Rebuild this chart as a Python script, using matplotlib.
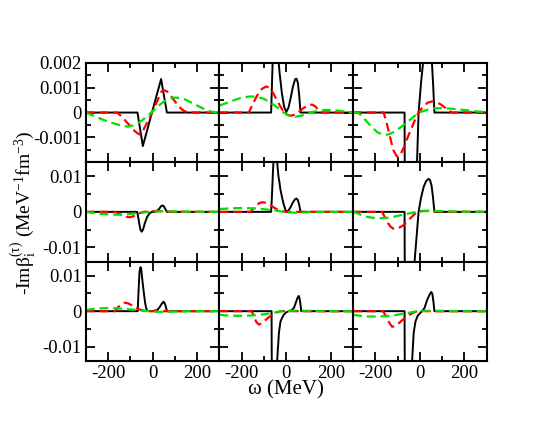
import matplotlib
matplotlib.use("Agg")
import matplotlib.pyplot as plt
from matplotlib.ticker import FixedLocator, MultipleLocator
import numpy as np

plt.rcParams['font.family'] = ['Liberation Serif', 'DejaVu Serif']
plt.rcParams['mathtext.fontset'] = 'custom'
plt.rcParams['mathtext.rm'] = 'Liberation Serif'
plt.rcParams['mathtext.it'] = 'Liberation Serif:italic'
plt.rcParams['axes.unicode_minus'] = False

# values in units of 1e-3 MeV^-1 fm^-3, omega in MeV
# ---- row 1 ----
w_k11 = [-300, -68, -44, 38, 64, 300]
v_k11 = [0, 0, -1.35, 1.35, 0, 0]
w_r11 = [-300, -160, -140, -120, -100, -80, -60, -50, -30, -10, 0, 20, 40, 50, 65, 80, 100, 120, 140, 160, 300]
v_r11 = [0, 0, -0.15, -0.35, -0.55, -0.75, -0.88, -0.85, -0.5, -0.15, 0.05, 0.45, 0.85, 0.9, 0.85, 0.7, 0.45, 0.22, 0.07, 0, 0]
w_g11 = [-300, -260, -220, -180, -140, -110, -80, -50, -20, 0, 30, 60, 90, 110, 140, 170, 200, 230, 260, 280, 300]
v_g11 = [0, -0.15, -0.3, -0.42, -0.53, -0.57, -0.5, -0.33, -0.12, 0.05, 0.3, 0.5, 0.6, 0.6, 0.55, 0.42, 0.28, 0.15, 0.05, 0, 0]

w_k12 = [-300, -68, -64, -60, -56, -52, -46, -38, -30, -20, -10, 0, 10, 20, 30, 40, 46, 52, 58, 64, 300]
v_k12 = [0, 0, 1.2, 2.4, 3.2, 3.6, 3.2, 2.4, 1.6, 0.8, 0.25, 0.02, 0.2, 0.6, 1.05, 1.35, 1.36, 1.2, 0.7, 0, 0]
w_r12 = [-300, -168, -150, -130, -110, -90, -75, -60, -45, -30, -15, 0, 20, 40, 60, 80, 100, 116, 130, 145, 155, 300]
v_r12 = [0, 0, 0.35, 0.7, 0.95, 1.05, 1.0, 0.8, 0.55, 0.3, 0.08, -0.07, -0.13, -0.08, 0.05, 0.2, 0.3, 0.32, 0.25, 0.1, 0, 0]
w_g12 = [-300, -270, -240, -200, -160, -130, -100, -70, -40, -15, 10, 40, 70, 100, 130, 170, 210, 250, 280, 300]
v_g12 = [0.28, 0.38, 0.48, 0.6, 0.65, 0.63, 0.55, 0.4, 0.2, 0.02, -0.12, -0.17, -0.12, -0.03, 0.05, 0.1, 0.1, 0.06, 0.02, 0]

w_k13 = [-300, -69, -67, -40, -20, -13, -6, 5, 14, 25, 38, 48, 54, 60, 65, 300]
v_k13 = [0, 0, -6, -8, -5, -2, 0, 1.2, 2.0, 3.5, 4, 3, 2, 1, 0, 0]
w_r13 = [-300, -163, -150, -135, -120, -105, -96, -85, -70, -55, -40, -25, -6, 15, 35, 55, 75, 95, 115, 130, 144, 300]
v_r13 = [0, 0, -0.4, -0.95, -1.5, -1.75, -1.78, -1.65, -1.35, -1.0, -0.68, -0.35, 0, 0.25, 0.4, 0.45, 0.42, 0.32, 0.18, 0.08, 0, 0]
w_g13 = [-300, -275, -250, -220, -190, -163, -140, -110, -80, -50, -25, -6, 30, 60, 100, 150, 200, 250, 300]
v_g13 = [0, -0.02, -0.25, -0.55, -0.8, -0.9, -0.88, -0.75, -0.55, -0.33, -0.15, 0, 0.1, 0.17, 0.18, 0.15, 0.1, 0.05, 0.02]

# ---- row 2 ----
w_k21 = [-300, -69, -62, -55, -49, -43, -35, -25, -15, -4, 10, 20, 30, 38, 44, 50, 57, 64, 300]
v_k21 = [0, 0, -2.5, -5.0, -5.6, -5.0, -3.2, -1.5, -0.5, 0, 0, 0.3, 0.9, 1.6, 1.8, 1.6, 0.8, 0, 0]
w_r21 = [-300, -169, -150, -130, -110, -100, -85, -70, -55, -40, -20, 0, 20, 40, 60, 80, 100, 300]
v_r21 = [0, 0, -0.6, -1.2, -1.5, -1.5, -1.2, -0.7, -0.3, 0, 0.1, 0.2, 0.25, 0.2, 0.12, 0.05, 0, 0]
w_g21 = [-300, -280, -240, -200, -160, -120, -80, -50, -20, 0, 40, 80, 120, 180, 240, 300]
v_g21 = [0, -0.2, -0.5, -0.7, -0.8, -0.7, -0.45, -0.25, -0.05, 0.05, 0.15, 0.15, 0.1, 0.05, 0.02, 0]

w_k22 = [-300, -68, -64, -60, -56, -52, -48, -44, -41, -35, -30, -26, -18, -11, -4, 4, 10, 20, 30, 40, 46, 52, 58, 64, 300]
v_k22 = [0, 0, 5, 11, 16, 20, 20, 17, 14, 10, 8, 6.2, 3.8, 2.0, 0.6, 0, 0.4, 1.4, 2.7, 3.6, 3.75, 3.3, 2.0, 0, 0]
w_r22 = [-300, -161, -150, -135, -120, -108, -95, -80, -65, -50, -35, -20, 0, 300]
v_r22 = [0, 0, 0.8, 1.8, 2.5, 2.7, 2.6, 2.2, 1.6, 1.0, 0.5, 0.15, 0, 0]
w_g22 = [-300, -260, -220, -180, -140, -100, -60, -30, -10, 10, 40, 70, 100, 150, 300]
v_g22 = [0.8, 0.95, 1.05, 1.05, 0.95, 0.75, 0.45, 0.2, 0, -0.15, -0.25, -0.2, -0.1, 0, 0]

w_k23 = [-300, -69, -68.5, -67, -60, -45, -35, -24, -15, -6, 5, 17, 28, 39, 45, 52, 58, 62, 65, 300]
v_k23 = [0, 0, -10, -25, -30, -25, -20, -14, -7, 0, 4.0, 7.1, 8.7, 9.3, 9.0, 7.5, 4.5, 2.0, 0, 0]
w_r23 = [-300, -170, -160, -145, -133, -118, -100, -85, -73, -55, -35, -13, 10, 40, 70, 100, 130, 300]
v_r23 = [0, 0, -1.2, -3.0, -4.1, -4.8, -4.6, -4.2, -3.7, -2.5, -1.3, 0, 0.25, 0.3, 0.2, 0.05, 0, 0]
w_g23 = [-300, -285, -260, -230, -200, -178, -150, -120, -90, -60, -30, -10, 20, 60, 100, 150, 200, 300]
v_g23 = [0, -0.3, -1.0, -1.5, -1.75, -1.8, -1.7, -1.4, -1.0, -0.6, -0.2, 0.05, 0.2, 0.25, 0.2, 0.1, 0.05, 0]

# ---- row 3 ----
w_k31 = [-300, -67, -63, -59, -55, -52, -48, -44, -39, -34, -29, -24, -15, 5, 20, 30, 40, 49, 56, 61, 64, 300]
v_k31 = [0, 0, 6, 11, 12.4, 12.2, 10, 7.5, 5, 2.5, 0.8, 0.1, 0, 0.1, 0.3, 1.0, 2.0, 2.7, 2.0, 0.8, 0, 0]
w_r31 = [-300, -169, -158, -145, -130, -124, -110, -95, -80, -60, -40, -26, 300]
v_r31 = [0, 0, 0.9, 1.8, 2.3, 2.4, 2.2, 1.7, 1.1, 0.5, 0.15, 0, 0]
w_g31 = [-300, -270, -240, -200, -160, -120, -80, -50, -20, 10, 40, 80, 120, 160, 300]
v_g31 = [0.3, 0.6, 0.8, 0.85, 0.8, 0.6, 0.35, 0.15, 0, -0.15, -0.2, -0.15, -0.05, 0, 0]

w_k32 = [-300, -66, -65.5, -64, -55, -48, -41, -33, -26, -18, -11, 0, 12, 25, 35, 45, 50, 56, 60, 64, 67, 300]
v_k32 = [0, 0, -10, -25, -30, -25, -14, -6.1, -2.9, -1.8, -1.0, -0.3, 0, 0.3, 1.0, 2.8, 3.7, 4.3, 3.5, 1.8, 0, 0]
w_r32 = [-300, -155, -145, -135, -123, -110, -95, -80, -60, -40, -26, 300]
v_r32 = [0, 0, -1.5, -3.0, -3.8, -3.4, -2.6, -1.8, -0.9, -0.3, 0, 0]
w_g32 = [-300, -270, -230, -190, -150, -110, -80, -50, -20, 10, 50, 100, 150, 200, 300]
v_g32 = [-1.0, -1.2, -1.3, -1.3, -1.2, -0.95, -0.7, -0.35, 0, 0.1, 0.15, 0.1, 0.05, 0, 0]

w_k33 = [-300, -69, -68.5, -67, -55, -45, -35, -28, -20, -10, -6, 9, 20, 32, 40, 47, 51, 56, 61, 65, 300]
v_k33 = [0, 0, -10, -25, -30, -22, -14, -6.1, -2.9, -1.3, -1.0, 0, 0.8, 3.1, 4.2, 5.1, 5.4, 4.8, 2.5, 0, 0]
w_r33 = [-300, -165, -150, -135, -125, -112, -95, -75, -55, -35, -13, 300]
v_r33 = [0, 0, -1.8, -3.5, -4.4, -4.2, -3.4, -2.3, -1.3, -0.6, 0, 0]
w_g33 = [-300, -270, -230, -190, -150, -110, -80, -50, -20, -5, 30, 80, 150, 200, 300]
v_g33 = [-1.0, -1.3, -1.5, -1.5, -1.4, -1.1, -0.8, -0.45, -0.1, 0, 0.1, 0.12, 0.05, 0, 0]

panels = [
    [(w_k11, v_k11, w_r11, v_r11, w_g11, v_g11),
     (w_k12, v_k12, w_r12, v_r12, w_g12, v_g12),
     (w_k13, v_k13, w_r13, v_r13, w_g13, v_g13)],
    [(w_k21, v_k21, w_r21, v_r21, w_g21, v_g21),
     (w_k22, v_k22, w_r22, v_r22, w_g22, v_g22),
     (w_k23, v_k23, w_r23, v_r23, w_g23, v_g23)],
    [(w_k31, v_k31, w_r31, v_r31, w_g31, v_g31),
     (w_k32, v_k32, w_r32, v_r32, w_g32, v_g32),
     (w_k33, v_k33, w_r33, v_r33, w_g33, v_g33)],
]

fig = plt.figure(figsize=(5.5, 4.25), dpi=100)
axes = fig.subplots(3, 3, sharex=True, sharey='row',
                    gridspec_kw=dict(hspace=0, wspace=0))
fig.subplots_adjust(left=0.156, right=0.885, top=0.852, bottom=0.151)

green = '#00e000'
for i in range(3):
    for j in range(3):
        ax = axes[i, j]
        wk, vk, wr, vr, wg, vg = panels[i][j]
        ax.plot(wk, np.array(vk) * 1e-3, color='black', lw=1.4)
        ax.plot(wr, np.array(vr) * 1e-3, color='red', lw=1.6, ls=(0, (4, 2.2)))
        ax.plot(wg, np.array(vg) * 1e-3, color=green, lw=1.6, ls=(0, (4, 2.2)))
        ax.set_xlim(-300, 300)
        ax.xaxis.set_major_locator(FixedLocator([-200, 0, 200]))
        ax.xaxis.set_minor_locator(MultipleLocator(100))
        ax.tick_params(which='both', direction='in', top=True, right=True,
                       width=1.3, labelsize=13.5, pad=3)
        ax.tick_params(which='major', length=6.5)
        ax.tick_params(which='minor', length=3.5)
        for s in ax.spines.values():
            s.set_linewidth(1.5)
        if i == 0:
            ax.set_ylim(-0.002, 0.002)
            ax.yaxis.set_major_locator(FixedLocator([-0.002, -0.001, 0, 0.001, 0.002]))
            ax.yaxis.set_minor_locator(MultipleLocator(0.0005))
        else:
            ax.set_ylim(-0.014, 0.014)
            ax.yaxis.set_major_locator(FixedLocator([-0.01, 0, 0.01]))
            ax.yaxis.set_minor_locator(MultipleLocator(0.005))

axes[0, 0].set_yticklabels(['', '-0.001', '0', '0.001', '0.002'])
axes[1, 0].set_yticklabels(['-0.01', '0', '0.01'])
axes[2, 0].set_yticklabels(['-0.01', '0', '0.01'])
axes[2, 0].set_xticklabels(['-200', '0', '200'])

fig.text(0.52, 0.082, 'ω (MeV)', ha='center', va='center', fontsize=15)
fig.text(0.042, 0.5, r'-Imβ$_\mathrm{i}^{\mathrm{(τ)}}$ (MeV$^{\mathrm{-1}}$fm$^{\mathrm{-3}}$)',
         ha='center', va='center', rotation=90, fontsize=14)

fig.savefig('out.png', dpi=100)
